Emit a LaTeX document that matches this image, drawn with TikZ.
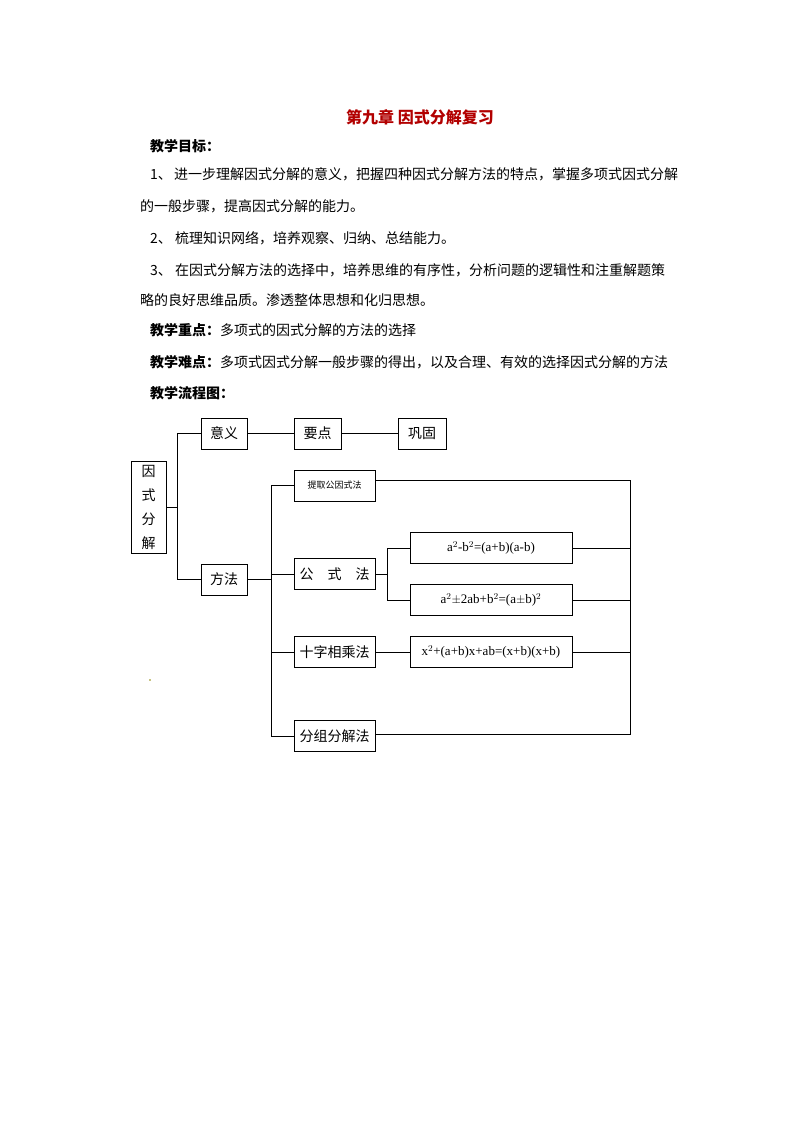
\documentclass[tikz,border=0pt]{standalone}
\usepackage{fontspec}
\setmainfont{Liberation Serif}
\newfontfamily\cjk{Noto Sans CJK SC}
\usetikzlibrary{positioning}
\tikzset{
  box/.style={draw, thick, minimum height=31pt, inner sep=0pt, font=\cjk\fontsize{14}{14}\selectfont},
  txt/.style={anchor=west, inner sep=0pt, font=\cjk\fontsize{14}{14}\selectfont},
  wire/.style={thick}
}
\begin{document}
\begin{tikzpicture}[x=1pt,y=-1pt]
\useasboundingbox (0,0) rectangle (794,1123);
% heading and text
\node[inner sep=0pt, text=red!70!black, font=\cjk\bfseries\fontsize{16}{16}\selectfont] (title) at (420,117) {第九章\ 因式分解复习};
\node[txt] (goal) at (150,146) {\bfseries 教学目标：};
\node[txt, text width=522pt, align=justify] (l1) at (150,174) {1、\ 进一步理解因式分解的意义，把握四种因式分解方法的特点，掌握多项式因式分解};
\node[txt] (l1b) at (140,206) {的一般步骤，提高因式分解的能力。};
\node[txt] (l2) at (150,238) {2、\ 梳理知识网络，培养观察、归纳、总结能力。};
\node[txt, text width=522pt, align=justify] (l3) at (150,270) {3、\ 在因式分解方法的选择中，培养思维的有序性，分析问题的逻辑性和注重解题策};
\node[txt] (l3b) at (140,300) {略的良好思维品质。渗透整体思想和化归思想。};
\node[txt] (key) at (150,330) {{\bfseries 教学重点：}多项式的因式分解的方法的选择};
\node[txt] (hard) at (150,362) {{\bfseries 教学难点：}多项式因式分解一般步骤的得出，以及合理、有效的选择因式分解的方法};
\node[txt] (flow) at (150,393) {\bfseries 教学流程图：};
% boxes
\node[box, minimum width=35pt, minimum height=92pt, align=center, font=\cjk\fontsize{14}{24}\selectfont] (root) at (148.5,507) {因\\式\\分\\解};
\node[box, minimum width=46pt] (yiyi) at (224,433.5) {意义};
\node[box, minimum width=47pt] (yaodian) at (317.5,433.5) {要点};
\node[box, minimum width=48pt] (gonggu) at (422,433.5) {巩固};
\node[box, minimum width=46pt] (fangfa) at (224,579.5) {方法};
\node[box, minimum width=81pt, font=\cjk\fontsize{9}{9}\selectfont] (tiqu) at (334.5,485.5) {提取公因式法};
\node[box, minimum width=81pt] (gongshi) at (334.5,574) {公\quad 式\quad 法};
\node[box, minimum width=81pt] (shizi) at (334.5,652) {十字相乘法};
\node[box, minimum width=81pt] (fenzu) at (334.5,736) {分组分解法};
\node[box, minimum width=162pt, font=\fontsize{13}{13}\selectfont] (f1) at (491,548) {a$^2$-b$^2$=(a+b)(a-b)};
\node[box, minimum width=162pt, font=\fontsize{13}{13}\selectfont] (f2) at (491,600) {a$^2\pm$2ab+b$^2$=(a$\pm$b)$^2$};
\node[box, minimum width=162pt, font=\fontsize{13}{13}\selectfont] (f3) at (491,652) {x$^2$+(a+b)x+ab=(x+b)(x+b)};
\node[circle, fill=olive, inner sep=0.6pt] (dot) at (150,680) {};
% connectors
\coordinate (ta) at (177,433.5);
\coordinate (tb) at (177,579.5);
\draw[wire] (root.east) -- (177,507) (yiyi.west) -| (ta) -- (tb) -- (fangfa.west);
\draw[wire] (yiyi) -- (yaodian) -- (gonggu);
\draw[wire] (fangfa.east) -- (271,579.5);
\draw[wire] (tiqu.west) -| (271,736) -- (fenzu.west);
\draw[wire] (shizi.west) -- (271,652);
\draw[wire] (gongshi.west) -- (271,574);
\draw[wire] (gongshi.east) -- (387,574);
\draw[wire] (f1.west) -| (387,600) -- (f2.west);
\draw[wire] (shizi) -- (f3);
\draw[wire] (tiqu.east |- 480,480) -- (630,480) -- (630,734) -- (fenzu.east |- 630,734);
\draw[wire] (f1.east) -- (630,548);
\draw[wire] (f2.east) -- (630,600);
\draw[wire] (f3.east) -- (630,652);
\end{tikzpicture}
\end{document}
